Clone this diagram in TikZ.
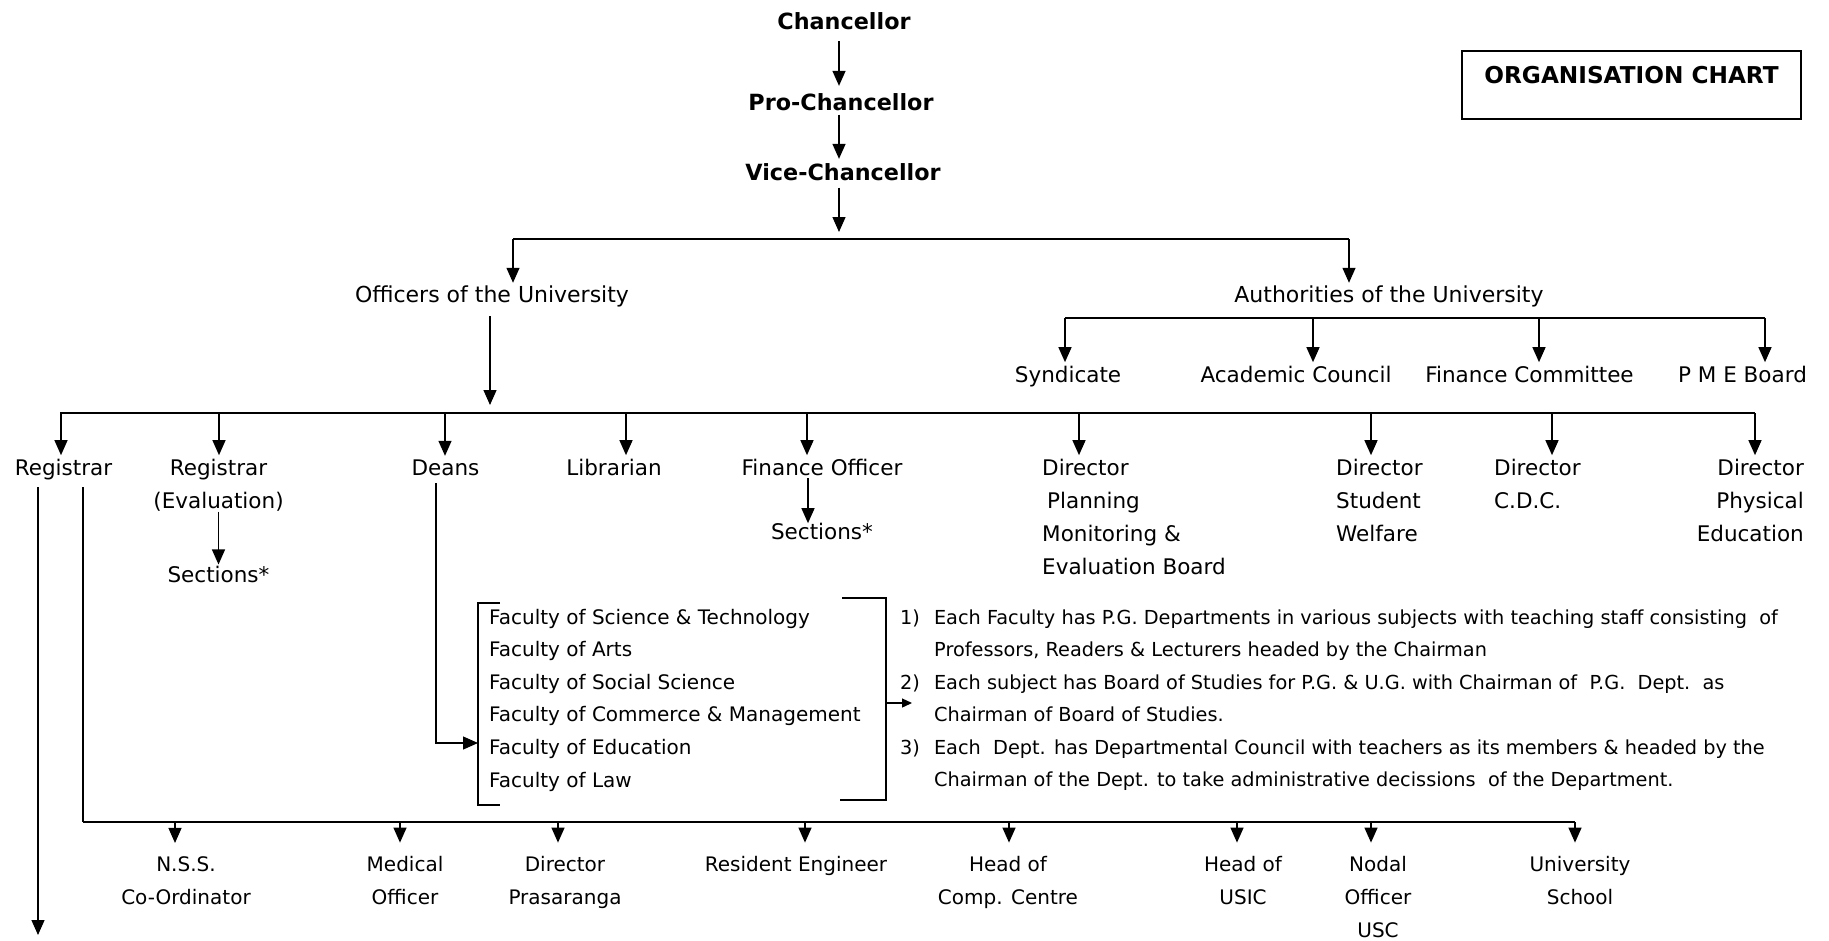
\documentclass[tikz,border=0pt]{standalone}
\usepackage{fontspec}
\setmainfont{DejaVu Sans}
\usetikzlibrary{arrows.meta}

\tikzset{
  lbl/.style={font=\fontsize{21.5}{33}\selectfont, inner sep=0pt, anchor=base, align=center},
  sml/.style={font=\fontsize{20}{33}\selectfont, inner sep=0pt, anchor=base, align=center},
  note/.style={font=\fontsize{19.3}{32.6}\selectfont, inner sep=0pt, anchor=base west, align=left},
  head/.style={font=\bfseries\fontsize{22.3}{26}\selectfont, inner sep=0pt, anchor=base},
  arr/.style={-{Triangle[width=13pt,length=15pt]}, line width=1.3pt},
  tiny arr/.style={-{Triangle[width=9pt,length=10pt]}, line width=1.3pt},
  bar/.style={line width=2pt},
}

\begin{document}
\begin{tikzpicture}[x=1pt, y=-1pt]
  \useasboundingbox (0,0) rectangle (1829,940);

  % Title box
  \node[draw, line width=2pt, anchor=north, minimum width=339pt, inner xsep=0pt,
        inner ysep=15pt, text height=17pt, text depth=21pt,
        font=\bfseries\fontsize{23.2}{26}\selectfont] (chart) at (1631.5,50) {ORGANISATION CHART};

  % Top of the chain
  \node[head] (chan) at (844,29.5) {Chancellor};
  \node[head] (pro) at (841,110) {Pro-Chancellor};
  \node[head] (vc) at (843,180) {Vice-Chancellor};
  \coordinate (ax) at (839,0);
  \coordinate (vcend) at (839,232);
  \draw[arr, shorten <=11pt, shorten >=7pt] (chan.south -| ax) -- (pro.north -| ax);
  \draw[arr, shorten <=4pt, shorten >=4pt] (pro.south -| ax) -- (vc.north -| ax);
  \draw[arr, shorten <=7pt] (vc.south -| ax) -- (vcend);

  % Officers and Authorities
  \node[lbl, font=\fontsize{22}{33}\selectfont] (offi) at (492,302.7) {Officers of the University};
  \node[lbl, font=\fontsize{22}{33}\selectfont] (auth) at (1389,302.7) {Authorities of the University};
  \coordinate (offl) at (513,239);
  \coordinate (authr) at (1349,239);
  \draw[bar] (offl) -- (authr);
  \draw[arr, shorten >=3pt] (offl) -- (offl |- offi.north);
  \draw[arr, shorten >=3pt] (authr) -- (authr |- auth.north);

  % Authorities
  \node[lbl] (synd) at (1068,382.7) {Syndicate};
  \node[lbl] (acad) at (1296,382.7) {Academic Council};
  \node[lbl] (finc) at (1529.5,382.7) {Finance Committee};
  \node[lbl] (pme) at (1742.5,382.7) {P M E Board};
  \draw[bar] (1065,318) -- (1765,318);
  \foreach \x/\n in {1065/synd, 1313/acad, 1539/finc, 1765/pme}
    \draw[arr, shorten >=4pt] (\x,318) coordinate (top) -- (top |- \n.north);

  % Officers (base = last line)
  \node[lbl] (reg) at (63.5,475.7) {Registrar};
  \node[lbl] (rege) at (218.5,508.7) {Registrar\\(Evaluation)};
  \node[lbl] (deans) at (445.5,475.7) {Deans};
  \node[lbl] (lib) at (614,475.7) {Librarian};
  \node[lbl] (fin) at (822,475.7) {Finance Officer};
  \node[lbl, anchor=base west, align=left] (dpm) at (1042,574.7)
    {Director\\\hspace*{5pt}Planning\\Monitoring \&\\Evaluation Board};
  \node[lbl, anchor=base west, align=left] (dsw) at (1336,541.7) {Director\\Student\\Welfare};
  \node[lbl, anchor=base west, align=left] (dcdc) at (1494,508.7) {Director\\C.D.C.};
  \node[lbl, anchor=base east, align=right] (dpe) at (1804,541.7) {Director\\Physical\\Education};
  \coordinate (offtip) at (490,405);
  \draw[arr, shorten <=9pt] (offi.south -| offtip) -- (offtip);
  \draw[bar] (60,413) -- (1755,413);
  \foreach \x/\n in {61/reg, 219/rege, 445/deans, 626/lib, 807/fin, 1079/dpm, 1371/dsw, 1552/dcdc, 1755/dpe}
    \draw[arr, shorten >=4pt] (\x,413) coordinate (top) -- (top |- \n.north);

  % Sections
  \node[lbl] (sect1) at (218.5,582) {Sections*};
  \node[lbl] (sect2) at (822,539.7) {Sections*};
  \coordinate (finx) at (808,0);
  \draw[arr, shorten >=1pt] (rege.south) -- (sect1.north);
  \draw[arr, shorten <=2pt] (fin.south -| finx) -- (sect2.north -| finx);

  % Faculties
  \node[note, font=\fontsize{20}{32.6}\selectfont] (fac) at (489,787) {Faculty of Science \& Technology\\Faculty of Arts\\Faculty of Social Science\\Faculty of Commerce \& Management\\Faculty of Education\\Faculty of Law};
  \draw[line width=1.3pt] (500,603) -- (478,603) -- (478,805) -- (500,805);
  \draw[line width=1.3pt] (842,598) -- (886,598) -- (886,800) -- (840,800);
  \coordinate (dcorner) at (436,743);
  \coordinate (lbr) at (478,743);
  \draw[arr, shorten <=7pt] (deans.south -| dcorner) -- (dcorner) -- (lbr);

  % Notes
  \node[note] (n1) at (900,656.6) {1)\hspace{14pt}Each Faculty has P.G. Departments in various subjects with teaching staff consisting\ \ of\\\hspace*{34pt}Professors, Readers \& Lecturers headed by the Chairman};
  \node[note] (n2) at (900,721.6) {2)\hspace{14pt}Each subject has Board of Studies for P.G. \& U.G. with Chairman of\ \ P.G.\ \ Dept.\ \ as\\\hspace*{34pt}Chairman of Board of Studies.};
  \node[note] (n3) at (900,786.6) {3)\hspace{14pt}Each\ \ Dept. has Departmental Council with teachers as its members \& headed by the\\\hspace*{34pt}Chairman of the Dept. to take administrative decissions\ \ of the Department.};
  \coordinate (rbr) at (887,703);
  \coordinate (rbrtip) at (912,703);
  \draw[tiny arr] (rbr) -- (rbrtip);

  % Registrar lines
  \coordinate (regl) at (38,935);
  \coordinate (regr) at (83,822);
  \draw[arr, shorten <=7pt] (reg.south -| regl) -- (regl);
  \draw[line width=1.3pt, shorten <=7pt] (reg.south -| regr) -- (regr);

  % Bottom row (base = last line)
  \node[sml] (nss) at (186,904) {N.S.S.\\Co-Ordinator};
  \node[sml] (med) at (405,904) {Medical\\Officer};
  \node[sml] (pras) at (565,904) {Director\\Prasaranga};
  \node[sml] (resi) at (796,871) {Resident Engineer};
  \node[sml] (comp) at (1008,904) {Head of\\Comp. Centre};
  \node[sml] (usic) at (1243,904) {Head of\\USIC};
  \node[sml] (nodal) at (1378,937) {Nodal\\Officer\\USC};
  \node[sml] (usch) at (1580,904) {University\\School};
  \draw[bar] (regr) -- (1575,822);
  \foreach \x/\n in {175/nss, 400/med, 558/pras, 805/resi, 1009/comp, 1237/usic, 1371/nodal, 1575/usch}
    \draw[arr, shorten >=13pt] (\x,822) coordinate (top) -- (top |- \n.north);
\end{tikzpicture}
\end{document}
